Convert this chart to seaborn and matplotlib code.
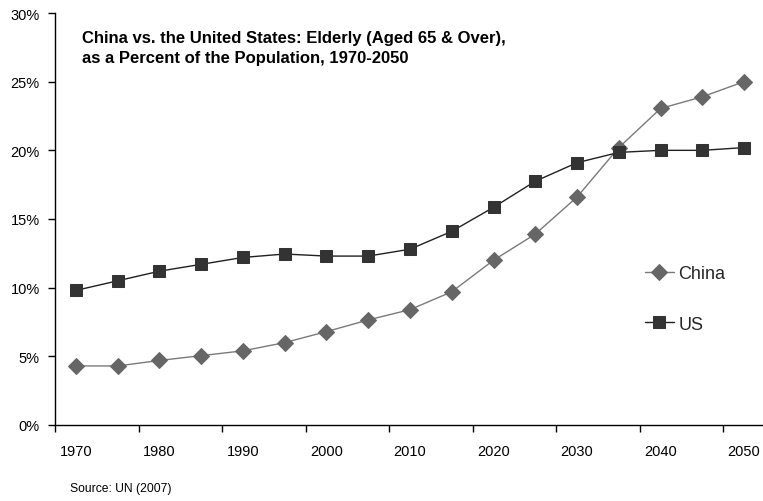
import matplotlib
matplotlib.use("Agg")
import matplotlib.pyplot as plt
import numpy as np
import pandas as pd
import seaborn as sns

# Share of population aged 65 and over (%), UN (2007)
years = [1970, 1975, 1980, 1985, 1990, 1995, 2000, 2005, 2010,
         2015, 2020, 2025, 2030, 2035, 2040, 2045, 2050]
china = [4.3, 4.3, 4.7, 5.05, 5.4, 6.0, 6.8, 7.65, 8.4,
         9.7, 12.0, 13.9, 16.6, 20.2, 23.05, 23.9, 25.0]
us = [9.8, 10.5, 11.2, 11.7, 12.2, 12.45, 12.3, 12.3, 12.8,
      14.1, 15.85, 17.75, 19.1, 19.85, 20.0, 20.0, 20.2]
tick_labels = ["1970", "1980", "1990", "2000", "2010",
               "2020", "2030", "2040", "2050"]
y_ticks = [0, 5, 10, 15, 20, 25, 30]

sns.set_theme(style="white")
plt.rcParams["font.family"] = ["Liberation Sans", "DejaVu Sans"]

df = pd.DataFrame({"Year": years, "China": china, "US": us})

fig = plt.figure(figsize=(7.63, 5.02), dpi=100)
ax = fig.add_axes([55 / 763, 76 / 502, 710 / 763, 412 / 502])

sns.lineplot(data=df, x="Year", y="China", ax=ax, color="#7a7a7a",
             linewidth=1.0, marker="D", markersize=8.5,
             markerfacecolor="#666666", markeredgecolor="#666666",
             label="China")
sns.lineplot(data=df, x="Year", y="US", ax=ax, color="#202020",
             linewidth=1.0, marker="s", markersize=9,
             markerfacecolor="#333333", markeredgecolor="#333333",
             label="US")

# category-style x axis: marks between categories, labels at every other point
ax.set_xlim(1967.5, 2052.5)
ax.set_xticks(np.arange(1967.5, 2050, 10))
ax.set_xticklabels([])
ax.set_xticks([int(t) for t in tick_labels], minor=True)
ax.set_xticklabels(tick_labels, minor=True)
ax.tick_params(axis="x", which="major", direction="out", length=5,
               width=1, color="black", bottom=True)
ax.tick_params(axis="x", which="minor", length=0, pad=14,
               labelsize=10.5, labelcolor="black")

ax.set_ylim(0, 30)
ax.set_yticks(y_ticks)
ax.set_yticklabels([f"{v}%" for v in y_ticks])
ax.tick_params(axis="y", direction="out", length=5, width=1,
               color="black", left=True, labelsize=10.5, pad=6,
               labelcolor="black")

ax.set_xlabel("")
ax.set_ylabel("")
for side in ("top", "right"):
    ax.spines[side].set_visible(False)
for side in ("left", "bottom"):
    ax.spines[side].set_color("black")
    ax.spines[side].set_linewidth(1.0)

leg = ax.legend(loc="center left", bbox_to_anchor=(645 / 763, 202 / 502),
                bbox_transform=fig.transFigure, frameon=False,
                fontsize=13, handlelength=1.6, handletextpad=0.25,
                labelspacing=1.85, borderpad=0, borderaxespad=0)

fig.text(82 / 763, 1 - 31 / 502,
         "China vs. the United States: Elderly (Aged 65 & Over),\n"
         "as a Percent of the Population, 1970-2050",
         ha="left", va="top", fontsize=12, fontweight="bold",
         linespacing=1.42, color="black")

fig.text(70 / 763, 1 - 489 / 502, "Source: UN (2007)",
         ha="left", va="center", fontsize=8.7, color="black")

fig.savefig("out.png", dpi=100)
